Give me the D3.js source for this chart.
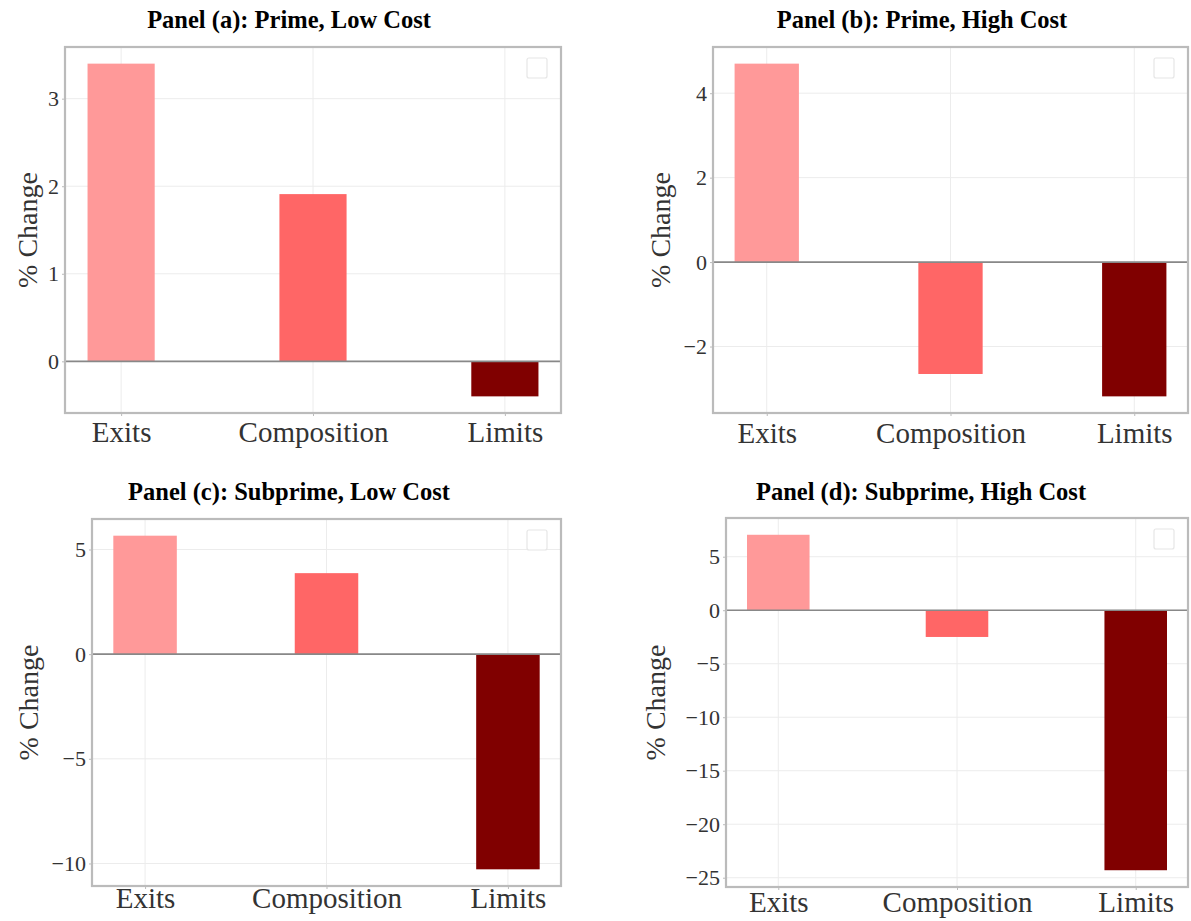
<!DOCTYPE html>
<html>
<head>
<meta charset="utf-8">
<script src="https://cdn.jsdelivr.net/npm/d3@7/dist/d3.min.js"></script>
<style>
  html, body { margin: 0; padding: 0; background: #fff; }
  svg { display: block; }
</style>
</head>
<body>
<svg id="chart" width="1191" height="921"></svg>
<script>
// Decomposition of the % change into exits, composition and limits
const categories = ["Exits", "Composition", "Limits"];
const barColors = ["#ff9999", "#ff6666", "#800000"];

const panelTitles = [
  "Panel (a): Prime, Low Cost",
  "Panel (b): Prime, High Cost",
  "Panel (c): Subprime, Low Cost",
  "Panel (d): Subprime, High Cost"
];

const primeLowCost      = [3.40, 1.91, -0.40];
const primeHighCost     = [4.70, -2.65, -3.18];
const subprimeLowCost   = [5.66, 3.87, -10.28];
const subprimeHighCost  = [7.05, -2.50, -24.30];

const ticksPrimeLow     = [0, 1, 2, 3];
const ticksPrimeHigh    = [-2, 0, 2, 4];
const ticksSubprimeLow  = [-10, -5, 0, 5];
const ticksSubprimeHigh = [-25, -20, -15, -10, -5, 0, 5];

const yAxisLabel = "% Change";

// Frame geometry of each panel
const layouts = [
  { left: 65,  right: 561,  top: 47,  bottom: 413, titleX: 289, titleY: 28,  xLabelY: 442, yLabelX: 27 },
  { left: 713, right: 1188, top: 47,  bottom: 413, titleX: 922, titleY: 28,  xLabelY: 443, yLabelX: 660 },
  { left: 92,  right: 561,  top: 519, bottom: 886, titleX: 289, titleY: 500, xLabelY: 908, yLabelX: 28 },
  { left: 726, right: 1188, top: 518, bottom: 887, titleX: 921, titleY: 500, xLabelY: 912, yLabelX: 655 }
];

const panels = [
  { title: panelTitles[0], values: primeLowCost,     ticks: ticksPrimeLow,     layout: layouts[0] },
  { title: panelTitles[1], values: primeHighCost,    ticks: ticksPrimeHigh,    layout: layouts[1] },
  { title: panelTitles[2], values: subprimeLowCost,  ticks: ticksSubprimeLow,  layout: layouts[2] },
  { title: panelTitles[3], values: subprimeHighCost, ticks: ticksSubprimeHigh, layout: layouts[3] }
];

const svg = d3.select("#chart");
const serif = "'Liberation Serif', 'Times New Roman', serif";
const barWidth = 0.35;
const fmt = v => (v < 0 ? "\u2212" + Math.abs(v) : String(v));

panels.forEach(p => {
  const L = p.layout;
  const g = svg.append("g");

  // x positions 0..n-1 with 5% margins, like a default bar plot
  const n = categories.length;
  const xLo = -barWidth / 2, xHi = n - 1 + barWidth / 2;
  const xm = (xHi - xLo) * 0.05;
  const x = d3.scaleLinear().domain([xLo - xm, xHi + xm]).range([L.left, L.right]);

  const yLo = Math.min(0, d3.min(p.values)), yHi = Math.max(0, d3.max(p.values));
  const ym = (yHi - yLo) * 0.05;
  const y = d3.scaleLinear().domain([yLo - ym, yHi + ym]).range([L.bottom, L.top]);

  // grid
  g.append("g").selectAll("line").data(p.ticks).join("line")
    .attr("x1", L.left).attr("x2", L.right)
    .attr("y1", d => y(d)).attr("y2", d => y(d))
    .attr("stroke", "#ececec").attr("stroke-width", 1);
  g.append("g").selectAll("line").data(d3.range(n)).join("line")
    .attr("x1", d => x(d)).attr("x2", d => x(d))
    .attr("y1", L.top).attr("y2", L.bottom)
    .attr("stroke", "#ececec").attr("stroke-width", 1);

  // bars
  g.append("g").selectAll("rect").data(p.values).join("rect")
    .attr("x", (d, i) => x(i - barWidth / 2))
    .attr("width", (d, i) => x(i + barWidth / 2) - x(i - barWidth / 2))
    .attr("y", d => y(Math.max(0, d)))
    .attr("height", d => Math.abs(y(d) - y(0)))
    .attr("fill", (d, i) => barColors[i]);

  // zero reference line
  g.append("line")
    .attr("x1", L.left).attr("x2", L.right)
    .attr("y1", y(0)).attr("y2", y(0))
    .attr("stroke", "#888").attr("stroke-width", 1.6);

  // empty legend box
  g.append("rect")
    .attr("x", L.right - 34).attr("y", L.top + 11)
    .attr("width", 20).attr("height", 20)
    .attr("rx", 2)
    .attr("fill", "#fff").attr("stroke", "#e6e6e6").attr("stroke-width", 1.2);

  // frame
  g.append("rect")
    .attr("x", L.left).attr("y", L.top)
    .attr("width", L.right - L.left).attr("height", L.bottom - L.top)
    .attr("fill", "none").attr("stroke", "#bbbbbb").attr("stroke-width", 2.2);

  // y axis
  const yAxis = d3.axisLeft(y).tickValues(p.ticks).tickFormat(fmt).tickSize(3).tickPadding(3);
  const ya = g.append("g").attr("transform", `translate(${L.left},0)`).call(yAxis);
  ya.select(".domain").remove();
  ya.selectAll(".tick line").attr("stroke", "#bbbbbb");
  ya.selectAll(".tick text")
    .attr("font-family", serif).attr("font-size", 22).attr("fill", "#333");

  // x axis
  const xAxis = d3.axisBottom(x).tickValues(d3.range(n)).tickFormat(i => categories[i]).tickSize(3).tickPadding(4);
  const xa = g.append("g").attr("transform", `translate(0,${L.bottom})`).call(xAxis);
  xa.select(".domain").remove();
  xa.selectAll(".tick line").attr("stroke", "#bbbbbb");
  xa.selectAll(".tick text")
    .attr("font-family", serif).attr("font-size", 29).attr("fill", "#333")
    .attr("dy", null).attr("y", L.xLabelY - L.bottom);

  // y axis title
  g.append("text")
    .attr("transform", `translate(${L.yLabelX},${(L.top + L.bottom) / 2}) rotate(-90)`)
    .attr("text-anchor", "middle").attr("dominant-baseline", "central")
    .attr("font-family", serif).attr("font-size", 28).attr("fill", "#333")
    .text(yAxisLabel);

  // panel title
  g.append("text")
    .attr("x", L.titleX).attr("y", L.titleY)
    .attr("text-anchor", "middle")
    .attr("font-family", serif).attr("font-weight", "bold").attr("font-size", 24.5).attr("fill", "#000")
    .text(p.title);
});
</script>
</body>
</html>
